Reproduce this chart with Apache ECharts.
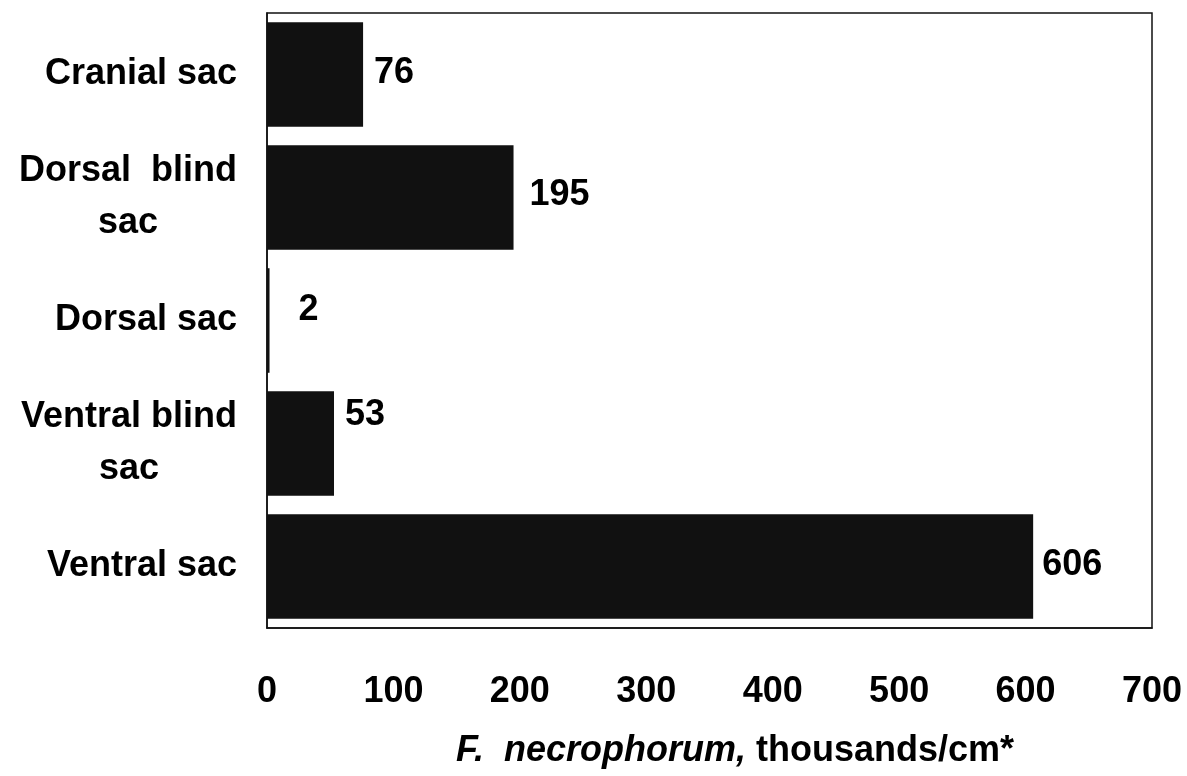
<!DOCTYPE html>
<html>
<head>
<meta charset="utf-8">
<script src="https://cdn.jsdelivr.net/npm/echarts@6/dist/echarts.min.js"></script>
<style>
html,body{margin:0;padding:0;background:#fff;}
#chart{width:1187px;height:776px;}
</style>
</head>
<body>
<div id="chart"></div>
<script>
// Data (top to bottom)
const categories = ['Cranial sac', 'Dorsal  blind\nsac', 'Dorsal sac', 'Ventral blind\nsac', 'Ventral sac'];
const values = [76, 195, 2, 53, 606];
const xTicks = [0, 100, 200, 300, 400, 500, 600, 700];
const axisTitleItalic = 'F.  necrophorum,';
const axisTitleBold = 'thousands/cm*';

// label nudges (style only)
const labelNudge = [[0, -1], [5, -2], [18, -10], [0, -28], [-2, -1]];

const FONT = '"Liberation Sans", Arial, sans-serif';
const chart = echarts.init(document.getElementById('chart'), null, {renderer: 'canvas'});

const seriesData = values.map((v, i) => ({
  value: v,
  label: {offset: labelNudge[i]}
}));

chart.setOption({
  animation: false,
  backgroundColor: '#fff',
  title: {
    text: '{i|' + axisTitleItalic + '}{b| ' + axisTitleBold + '}',
    left: 451,
    top: 725,
    textStyle: {
      rich: {
        i: {fontFamily: FONT, fontSize: 36, fontWeight: 'bold', fontStyle: 'italic', color: '#000', lineHeight: 42},
        b: {fontFamily: FONT, fontSize: 36, fontWeight: 'bold', color: '#000', lineHeight: 42}
      }
    }
  },
  grid: {
    left: 267, right: 35, top: 13, bottom: 148,
    show: true, borderColor: '#111', borderWidth: 1.5, backgroundColor: '#fff'
  },
  xAxis: {
    type: 'value',
    min: xTicks[0],
    max: xTicks[xTicks.length - 1],
    interval: xTicks[1] - xTicks[0],
    axisLine: {show: true, lineStyle: {color: '#111', width: 1.5}},
    axisTick: {show: false},
    splitLine: {show: false},
    axisLabel: {
      margin: 46,
      fontFamily: FONT, fontSize: 36, fontWeight: 'bold', color: '#000'
    }
  },
  yAxis: {
    type: 'category',
    data: categories,
    inverse: true,
    axisLine: {show: true, lineStyle: {color: '#111', width: 1.5}},
    axisTick: {show: false},
    axisLabel: {
      margin: 30,
      formatter: v => v.split('\n').map(s => '{a|' + s + '}').join('\n'),
      rich: {
        a: {fontFamily: FONT, fontSize: 36, fontWeight: 'bold', color: '#000', lineHeight: 52, align: 'center'}
      }
    }
  },
  series: [{
    type: 'bar',
    data: seriesData,
    barCategoryGap: '15%',
    itemStyle: {color: '#111'},
    label: {
      show: true,
      position: 'right',
      distance: 11,
      fontFamily: FONT, fontSize: 36, fontWeight: 'bold', color: '#000'
    }
  }]
});
</script>
</body>
</html>
